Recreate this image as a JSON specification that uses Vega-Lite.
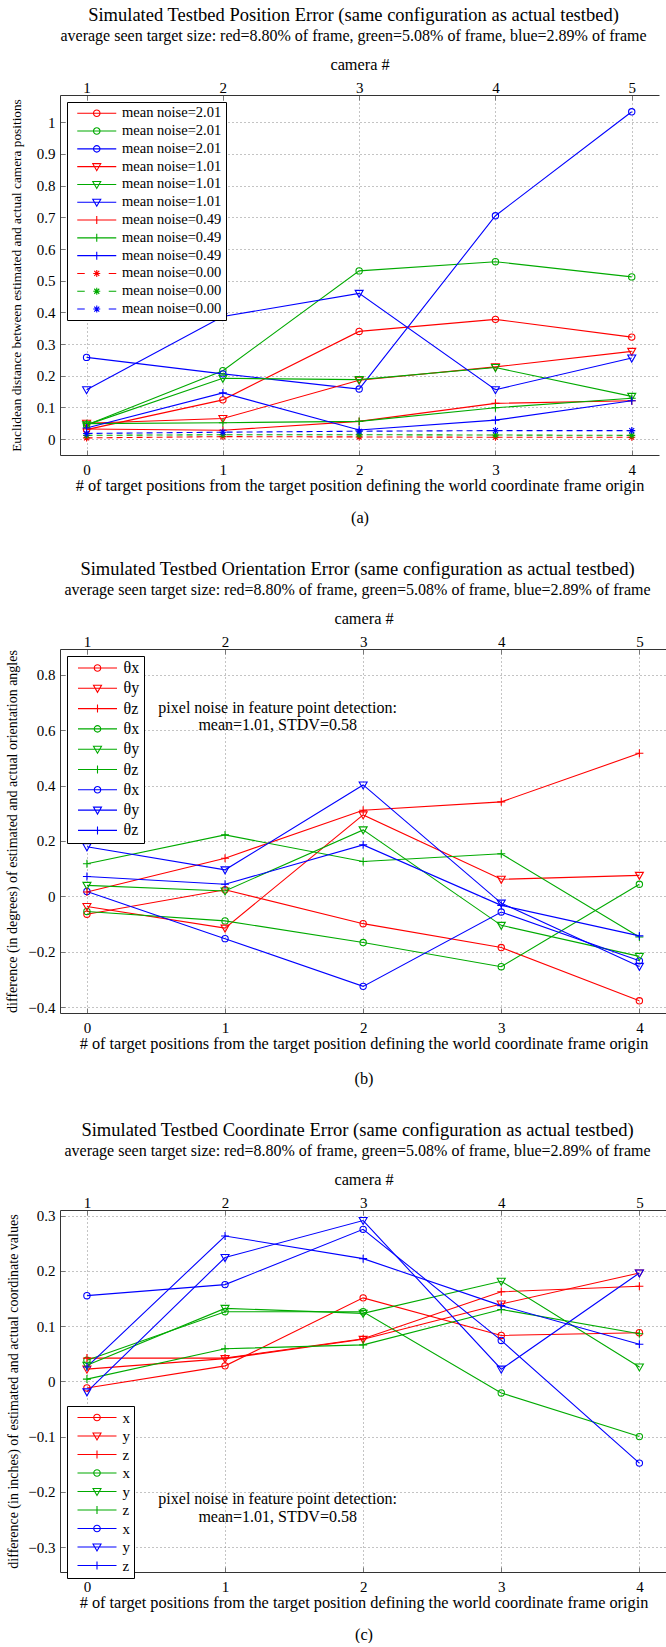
{
  "$schema": "https://vega.github.io/schema/vega-lite/v6.json",
  "background": "white",
  "padding": {"left": 5, "top": 5, "right": 0, "bottom": 0},
  "spacing": 33,
  "resolve": {"scale": {"x": "independent", "y": "independent", "color": "independent", "shape": "independent"}},
  "config": {
    "font": "Liberation Serif",
    "view": {"stroke": null},
    "title": {"font": "Liberation Serif", "fontSize": 18.5, "fontWeight": "normal", "color": "#000", "subtitleFont": "Liberation Serif", "subtitleFontSize": 16, "subtitleColor": "#000", "subtitlePadding": 4, "anchor": "middle", "frame": "group", "offset": 12, "dx": -6},
    "axis": {"labelFont": "Liberation Serif", "titleFont": "Liberation Serif", "labelFontSize": 15, "titleFontSize": 16.3, "titleFontWeight": "normal", "labelColor": "#000", "titleColor": "#000", "domainColor": "#333", "domainWidth": 1, "tickColor": "#777", "tickSize": -5, "tickWidth": 1, "gridColor": "#888", "gridDash": [1, 3], "gridWidth": 1, "gridOpacity": 1, "labelPadding": 10, "titlePadding": 2, "labelFlush": false, "labelOverlap": false},
    "axisBottom": {"labelPadding": 12, "titlePadding": 0, "titleLineHeight": 32},
    "legend": {"orient": "top-left", "offset": 7, "strokeColor": "#000", "fillColor": "#fff", "padding": 4, "labelFont": "Liberation Serif", "labelFontSize": 14.5, "labelColor": "#000", "symbolSize": 100, "symbolStrokeWidth": 1.1, "symbolOffset": 18.5, "labelOffset": 18, "rowPadding": 2.8}
  },
  "datasets": {
    "a": [
      {"noise": "2.01", "target": "8.80%", "series": "mean noise=2.01 (8.80%)", "x": 0, "y": 0.030},
      {"noise": "2.01", "target": "8.80%", "series": "mean noise=2.01 (8.80%)", "x": 1, "y": 0.124},
      {"noise": "2.01", "target": "8.80%", "series": "mean noise=2.01 (8.80%)", "x": 2, "y": 0.340},
      {"noise": "2.01", "target": "8.80%", "series": "mean noise=2.01 (8.80%)", "x": 3, "y": 0.378},
      {"noise": "2.01", "target": "8.80%", "series": "mean noise=2.01 (8.80%)", "x": 4, "y": 0.322},
      {"noise": "2.01", "target": "5.08%", "series": "mean noise=2.01 (5.08%)", "x": 0, "y": 0.045},
      {"noise": "2.01", "target": "5.08%", "series": "mean noise=2.01 (5.08%)", "x": 1, "y": 0.216},
      {"noise": "2.01", "target": "5.08%", "series": "mean noise=2.01 (5.08%)", "x": 2, "y": 0.531},
      {"noise": "2.01", "target": "5.08%", "series": "mean noise=2.01 (5.08%)", "x": 3, "y": 0.560},
      {"noise": "2.01", "target": "5.08%", "series": "mean noise=2.01 (5.08%)", "x": 4, "y": 0.512},
      {"noise": "2.01", "target": "2.89%", "series": "mean noise=2.01 (2.89%)", "x": 0, "y": 0.258},
      {"noise": "2.01", "target": "2.89%", "series": "mean noise=2.01 (2.89%)", "x": 1, "y": 0.206},
      {"noise": "2.01", "target": "2.89%", "series": "mean noise=2.01 (2.89%)", "x": 2, "y": 0.158},
      {"noise": "2.01", "target": "2.89%", "series": "mean noise=2.01 (2.89%)", "x": 3, "y": 0.705},
      {"noise": "2.01", "target": "2.89%", "series": "mean noise=2.01 (2.89%)", "x": 4, "y": 1.033},
      {"noise": "1.01", "target": "8.80%", "series": "mean noise=1.01 (8.80%)", "x": 0, "y": 0.050},
      {"noise": "1.01", "target": "8.80%", "series": "mean noise=1.01 (8.80%)", "x": 1, "y": 0.065},
      {"noise": "1.01", "target": "8.80%", "series": "mean noise=1.01 (8.80%)", "x": 2, "y": 0.186},
      {"noise": "1.01", "target": "8.80%", "series": "mean noise=1.01 (8.80%)", "x": 3, "y": 0.228},
      {"noise": "1.01", "target": "8.80%", "series": "mean noise=1.01 (8.80%)", "x": 4, "y": 0.277},
      {"noise": "1.01", "target": "5.08%", "series": "mean noise=1.01 (5.08%)", "x": 0, "y": 0.045},
      {"noise": "1.01", "target": "5.08%", "series": "mean noise=1.01 (5.08%)", "x": 1, "y": 0.192},
      {"noise": "1.01", "target": "5.08%", "series": "mean noise=1.01 (5.08%)", "x": 2, "y": 0.188},
      {"noise": "1.01", "target": "5.08%", "series": "mean noise=1.01 (5.08%)", "x": 3, "y": 0.226},
      {"noise": "1.01", "target": "5.08%", "series": "mean noise=1.01 (5.08%)", "x": 4, "y": 0.135},
      {"noise": "1.01", "target": "2.89%", "series": "mean noise=1.01 (2.89%)", "x": 0, "y": 0.156},
      {"noise": "1.01", "target": "2.89%", "series": "mean noise=1.01 (2.89%)", "x": 1, "y": 0.387},
      {"noise": "1.01", "target": "2.89%", "series": "mean noise=1.01 (2.89%)", "x": 2, "y": 0.460},
      {"noise": "1.01", "target": "2.89%", "series": "mean noise=1.01 (2.89%)", "x": 3, "y": 0.156},
      {"noise": "1.01", "target": "2.89%", "series": "mean noise=1.01 (2.89%)", "x": 4, "y": 0.256},
      {"noise": "0.49", "target": "8.80%", "series": "mean noise=0.49 (8.80%)", "x": 0, "y": 0.032},
      {"noise": "0.49", "target": "8.80%", "series": "mean noise=0.49 (8.80%)", "x": 1, "y": 0.028},
      {"noise": "0.49", "target": "8.80%", "series": "mean noise=0.49 (8.80%)", "x": 2, "y": 0.056},
      {"noise": "0.49", "target": "8.80%", "series": "mean noise=0.49 (8.80%)", "x": 3, "y": 0.113},
      {"noise": "0.49", "target": "8.80%", "series": "mean noise=0.49 (8.80%)", "x": 4, "y": 0.121},
      {"noise": "0.49", "target": "5.08%", "series": "mean noise=0.49 (5.08%)", "x": 0, "y": 0.049},
      {"noise": "0.49", "target": "5.08%", "series": "mean noise=0.49 (5.08%)", "x": 1, "y": 0.052},
      {"noise": "0.49", "target": "5.08%", "series": "mean noise=0.49 (5.08%)", "x": 2, "y": 0.056},
      {"noise": "0.49", "target": "5.08%", "series": "mean noise=0.49 (5.08%)", "x": 3, "y": 0.099},
      {"noise": "0.49", "target": "5.08%", "series": "mean noise=0.49 (5.08%)", "x": 4, "y": 0.129},
      {"noise": "0.49", "target": "2.89%", "series": "mean noise=0.49 (2.89%)", "x": 0, "y": 0.035},
      {"noise": "0.49", "target": "2.89%", "series": "mean noise=0.49 (2.89%)", "x": 1, "y": 0.146},
      {"noise": "0.49", "target": "2.89%", "series": "mean noise=0.49 (2.89%)", "x": 2, "y": 0.029},
      {"noise": "0.49", "target": "2.89%", "series": "mean noise=0.49 (2.89%)", "x": 3, "y": 0.060},
      {"noise": "0.49", "target": "2.89%", "series": "mean noise=0.49 (2.89%)", "x": 4, "y": 0.121},
      {"noise": "0.00", "target": "8.80%", "series": "mean noise=0.00 (8.80%)", "x": 0, "y": 0.004},
      {"noise": "0.00", "target": "8.80%", "series": "mean noise=0.00 (8.80%)", "x": 1, "y": 0.008},
      {"noise": "0.00", "target": "8.80%", "series": "mean noise=0.00 (8.80%)", "x": 2, "y": 0.007},
      {"noise": "0.00", "target": "8.80%", "series": "mean noise=0.00 (8.80%)", "x": 3, "y": 0.006},
      {"noise": "0.00", "target": "8.80%", "series": "mean noise=0.00 (8.80%)", "x": 4, "y": 0.006},
      {"noise": "0.00", "target": "5.08%", "series": "mean noise=0.00 (5.08%)", "x": 0, "y": 0.012},
      {"noise": "0.00", "target": "5.08%", "series": "mean noise=0.00 (5.08%)", "x": 1, "y": 0.014},
      {"noise": "0.00", "target": "5.08%", "series": "mean noise=0.00 (5.08%)", "x": 2, "y": 0.014},
      {"noise": "0.00", "target": "5.08%", "series": "mean noise=0.00 (5.08%)", "x": 3, "y": 0.013},
      {"noise": "0.00", "target": "5.08%", "series": "mean noise=0.00 (5.08%)", "x": 4, "y": 0.012},
      {"noise": "0.00", "target": "2.89%", "series": "mean noise=0.00 (2.89%)", "x": 0, "y": 0.018},
      {"noise": "0.00", "target": "2.89%", "series": "mean noise=0.00 (2.89%)", "x": 1, "y": 0.022},
      {"noise": "0.00", "target": "2.89%", "series": "mean noise=0.00 (2.89%)", "x": 2, "y": 0.025},
      {"noise": "0.00", "target": "2.89%", "series": "mean noise=0.00 (2.89%)", "x": 3, "y": 0.027},
      {"noise": "0.00", "target": "2.89%", "series": "mean noise=0.00 (2.89%)", "x": 4, "y": 0.027}
    ],
    "b": [
      {"angle": "θx", "target": "8.80%", "series": "θx (8.80%)", "x": 0, "y": -0.064},
      {"angle": "θx", "target": "8.80%", "series": "θx (8.80%)", "x": 1, "y": 0.024},
      {"angle": "θx", "target": "8.80%", "series": "θx (8.80%)", "x": 2, "y": -0.098},
      {"angle": "θx", "target": "8.80%", "series": "θx (8.80%)", "x": 3, "y": -0.184},
      {"angle": "θx", "target": "8.80%", "series": "θx (8.80%)", "x": 4, "y": -0.376},
      {"angle": "θy", "target": "8.80%", "series": "θy (8.80%)", "x": 0, "y": -0.036},
      {"angle": "θy", "target": "8.80%", "series": "θy (8.80%)", "x": 1, "y": -0.114},
      {"angle": "θy", "target": "8.80%", "series": "θy (8.80%)", "x": 2, "y": 0.294},
      {"angle": "θy", "target": "8.80%", "series": "θy (8.80%)", "x": 3, "y": 0.062},
      {"angle": "θy", "target": "8.80%", "series": "θy (8.80%)", "x": 4, "y": 0.076},
      {"angle": "θz", "target": "8.80%", "series": "θz (8.80%)", "x": 0, "y": 0.016},
      {"angle": "θz", "target": "8.80%", "series": "θz (8.80%)", "x": 1, "y": 0.138},
      {"angle": "θz", "target": "8.80%", "series": "θz (8.80%)", "x": 2, "y": 0.311},
      {"angle": "θz", "target": "8.80%", "series": "θz (8.80%)", "x": 3, "y": 0.341},
      {"angle": "θz", "target": "8.80%", "series": "θz (8.80%)", "x": 4, "y": 0.516},
      {"angle": "θx", "target": "5.08%", "series": "θx (5.08%)", "x": 0, "y": -0.054},
      {"angle": "θx", "target": "5.08%", "series": "θx (5.08%)", "x": 1, "y": -0.088},
      {"angle": "θx", "target": "5.08%", "series": "θx (5.08%)", "x": 2, "y": -0.166},
      {"angle": "θx", "target": "5.08%", "series": "θx (5.08%)", "x": 3, "y": -0.253},
      {"angle": "θx", "target": "5.08%", "series": "θx (5.08%)", "x": 4, "y": 0.044},
      {"angle": "θy", "target": "5.08%", "series": "θy (5.08%)", "x": 0, "y": 0.040},
      {"angle": "θy", "target": "5.08%", "series": "θy (5.08%)", "x": 1, "y": 0.020},
      {"angle": "θy", "target": "5.08%", "series": "θy (5.08%)", "x": 2, "y": 0.240},
      {"angle": "θy", "target": "5.08%", "series": "θy (5.08%)", "x": 3, "y": -0.104},
      {"angle": "θy", "target": "5.08%", "series": "θy (5.08%)", "x": 4, "y": -0.216},
      {"angle": "θz", "target": "5.08%", "series": "θz (5.08%)", "x": 0, "y": 0.118},
      {"angle": "θz", "target": "5.08%", "series": "θz (5.08%)", "x": 1, "y": 0.222},
      {"angle": "θz", "target": "5.08%", "series": "θz (5.08%)", "x": 2, "y": 0.126},
      {"angle": "θz", "target": "5.08%", "series": "θz (5.08%)", "x": 3, "y": 0.154},
      {"angle": "θz", "target": "5.08%", "series": "θz (5.08%)", "x": 4, "y": -0.146},
      {"angle": "θx", "target": "2.89%", "series": "θx (2.89%)", "x": 0, "y": 0.018},
      {"angle": "θx", "target": "2.89%", "series": "θx (2.89%)", "x": 1, "y": -0.152},
      {"angle": "θx", "target": "2.89%", "series": "θx (2.89%)", "x": 2, "y": -0.324},
      {"angle": "θx", "target": "2.89%", "series": "θx (2.89%)", "x": 3, "y": -0.056},
      {"angle": "θx", "target": "2.89%", "series": "θx (2.89%)", "x": 4, "y": -0.232},
      {"angle": "θy", "target": "2.89%", "series": "θy (2.89%)", "x": 0, "y": 0.179},
      {"angle": "θy", "target": "2.89%", "series": "θy (2.89%)", "x": 1, "y": 0.096},
      {"angle": "θy", "target": "2.89%", "series": "θy (2.89%)", "x": 2, "y": 0.402},
      {"angle": "θy", "target": "2.89%", "series": "θy (2.89%)", "x": 3, "y": -0.024},
      {"angle": "θy", "target": "2.89%", "series": "θy (2.89%)", "x": 4, "y": -0.252},
      {"angle": "θz", "target": "2.89%", "series": "θz (2.89%)", "x": 0, "y": 0.072},
      {"angle": "θz", "target": "2.89%", "series": "θz (2.89%)", "x": 1, "y": 0.044},
      {"angle": "θz", "target": "2.89%", "series": "θz (2.89%)", "x": 2, "y": 0.186},
      {"angle": "θz", "target": "2.89%", "series": "θz (2.89%)", "x": 3, "y": -0.032},
      {"angle": "θz", "target": "2.89%", "series": "θz (2.89%)", "x": 4, "y": -0.142}
    ],
    "c": [
      {"coordinate": "x", "target": "8.80%", "series": "x (8.80%)", "x": 0, "y": -0.012},
      {"coordinate": "x", "target": "8.80%", "series": "x (8.80%)", "x": 1, "y": 0.028},
      {"coordinate": "x", "target": "8.80%", "series": "x (8.80%)", "x": 2, "y": 0.151},
      {"coordinate": "x", "target": "8.80%", "series": "x (8.80%)", "x": 3, "y": 0.083},
      {"coordinate": "x", "target": "8.80%", "series": "x (8.80%)", "x": 4, "y": 0.088},
      {"coordinate": "y", "target": "8.80%", "series": "y (8.80%)", "x": 0, "y": 0.022},
      {"coordinate": "y", "target": "8.80%", "series": "y (8.80%)", "x": 1, "y": 0.041},
      {"coordinate": "y", "target": "8.80%", "series": "y (8.80%)", "x": 2, "y": 0.076},
      {"coordinate": "y", "target": "8.80%", "series": "y (8.80%)", "x": 3, "y": 0.140},
      {"coordinate": "y", "target": "8.80%", "series": "y (8.80%)", "x": 4, "y": 0.196},
      {"coordinate": "z", "target": "8.80%", "series": "z (8.80%)", "x": 0, "y": 0.042},
      {"coordinate": "z", "target": "8.80%", "series": "z (8.80%)", "x": 1, "y": 0.042},
      {"coordinate": "z", "target": "8.80%", "series": "z (8.80%)", "x": 2, "y": 0.077},
      {"coordinate": "z", "target": "8.80%", "series": "z (8.80%)", "x": 3, "y": 0.162},
      {"coordinate": "z", "target": "8.80%", "series": "z (8.80%)", "x": 4, "y": 0.172},
      {"coordinate": "x", "target": "5.08%", "series": "x (5.08%)", "x": 0, "y": 0.038},
      {"coordinate": "x", "target": "5.08%", "series": "x (5.08%)", "x": 1, "y": 0.126},
      {"coordinate": "x", "target": "5.08%", "series": "x (5.08%)", "x": 2, "y": 0.126},
      {"coordinate": "x", "target": "5.08%", "series": "x (5.08%)", "x": 3, "y": -0.021},
      {"coordinate": "x", "target": "5.08%", "series": "x (5.08%)", "x": 4, "y": -0.100},
      {"coordinate": "y", "target": "5.08%", "series": "y (5.08%)", "x": 0, "y": 0.029},
      {"coordinate": "y", "target": "5.08%", "series": "y (5.08%)", "x": 1, "y": 0.132},
      {"coordinate": "y", "target": "5.08%", "series": "y (5.08%)", "x": 2, "y": 0.123},
      {"coordinate": "y", "target": "5.08%", "series": "y (5.08%)", "x": 3, "y": 0.181},
      {"coordinate": "y", "target": "5.08%", "series": "y (5.08%)", "x": 4, "y": 0.026},
      {"coordinate": "z", "target": "5.08%", "series": "z (5.08%)", "x": 0, "y": 0.004},
      {"coordinate": "z", "target": "5.08%", "series": "z (5.08%)", "x": 1, "y": 0.059},
      {"coordinate": "z", "target": "5.08%", "series": "z (5.08%)", "x": 2, "y": 0.066},
      {"coordinate": "z", "target": "5.08%", "series": "z (5.08%)", "x": 3, "y": 0.130},
      {"coordinate": "z", "target": "5.08%", "series": "z (5.08%)", "x": 4, "y": 0.086},
      {"coordinate": "x", "target": "2.89%", "series": "x (2.89%)", "x": 0, "y": 0.155},
      {"coordinate": "x", "target": "2.89%", "series": "x (2.89%)", "x": 1, "y": 0.175},
      {"coordinate": "x", "target": "2.89%", "series": "x (2.89%)", "x": 2, "y": 0.275},
      {"coordinate": "x", "target": "2.89%", "series": "x (2.89%)", "x": 3, "y": 0.074},
      {"coordinate": "x", "target": "2.89%", "series": "x (2.89%)", "x": 4, "y": -0.148},
      {"coordinate": "y", "target": "2.89%", "series": "y (2.89%)", "x": 0, "y": -0.019},
      {"coordinate": "y", "target": "2.89%", "series": "y (2.89%)", "x": 1, "y": 0.224},
      {"coordinate": "y", "target": "2.89%", "series": "y (2.89%)", "x": 2, "y": 0.291},
      {"coordinate": "y", "target": "2.89%", "series": "y (2.89%)", "x": 3, "y": 0.022},
      {"coordinate": "y", "target": "2.89%", "series": "y (2.89%)", "x": 4, "y": 0.196},
      {"coordinate": "z", "target": "2.89%", "series": "z (2.89%)", "x": 0, "y": 0.026},
      {"coordinate": "z", "target": "2.89%", "series": "z (2.89%)", "x": 1, "y": 0.263},
      {"coordinate": "z", "target": "2.89%", "series": "z (2.89%)", "x": 2, "y": 0.222},
      {"coordinate": "z", "target": "2.89%", "series": "z (2.89%)", "x": 3, "y": 0.137},
      {"coordinate": "z", "target": "2.89%", "series": "z (2.89%)", "x": 4, "y": 0.067}
    ]
  },
  "vconcat": [
    {
      "width": 599, "height": 360,
      "data": {"name": "a"},
      "title": {"text": "Simulated Testbed Position Error (same configuration as actual testbed)", "subtitle": "average seen target size: red=8.80% of frame, green=5.08% of frame, blue=2.89% of frame"},
      "resolve": {"axis": {"x": "independent"}},
      "encoding": {
        "x": {"field": "x", "type": "quantitative", "scale": {"domain": [-0.195, 4.2], "nice": false, "zero": false}, "axis": {"orient": "bottom", "values": [0, 1, 2, 3, 4], "grid": true, "title": ["# of target positions from the target position defining the world coordinate frame origin", "(a)"]}},
        "y": {"field": "y", "type": "quantitative", "scale": {"domain": [-0.05, 1.086], "nice": false, "zero": false}, "axis": {"values": [0, 0.1, 0.2, 0.3, 0.4, 0.5, 0.6, 0.7, 0.8, 0.9, 1], "format": "~g", "grid": true, "titlePadding": 12.3, "titleFontSize": 13.3, "title": "Euclidean distance between estimated and actual camera positions"}},
        "color": {"field": "series", "type": "nominal", "scale": {"domain": ["mean noise=2.01 (8.80%)", "mean noise=2.01 (5.08%)", "mean noise=2.01 (2.89%)", "mean noise=1.01 (8.80%)", "mean noise=1.01 (5.08%)", "mean noise=1.01 (2.89%)", "mean noise=0.49 (8.80%)", "mean noise=0.49 (5.08%)", "mean noise=0.49 (2.89%)", "mean noise=0.00 (8.80%)", "mean noise=0.00 (5.08%)", "mean noise=0.00 (2.89%)"], "range": ["#ff0000", "#00aa00", "#0000ff", "#ff0000", "#00aa00", "#0000ff", "#ff0000", "#00aa00", "#0000ff", "#ff0000", "#00aa00", "#0000ff"]}, "legend": {"title": null, "labelExpr": "split(datum.label, ' (')[0]"}}
      },
      "layer": [
        {
          "transform": [{"filter": "datum.noise != '0.00'"}],
          "mark": {"type": "line", "strokeWidth": 1.1}
        },
        {
          "transform": [{"filter": "datum.noise == '0.00'"}],
          "mark": {"type": "line", "strokeWidth": 1.1, "strokeDash": [6, 4]},
          "encoding": {"x": {"field": "x", "type": "quantitative", "axis": null}}
        },
        {
          "transform": [{"filter": "datum.noise == '2.01'"}],
          "mark": {"type": "point", "shape": "circle", "filled": false, "size": 40, "strokeWidth": 1.1, "opacity": 1},
          "encoding": {
            "x": {"field": "x", "type": "quantitative", "axis": {"orient": "top", "values": [0, 1, 2, 3, 4], "labelExpr": "datum.value + 1", "grid": false, "labelPadding": 5, "titlePadding": 8, "title": "camera #"}}
          }
        },
        {
          "transform": [{"filter": "datum.noise == '1.01'"}],
          "mark": {"type": "point", "shape": "M-1,-0.75L1,-0.75L0,1Z", "filled": false, "size": 64, "strokeWidth": 1.1, "opacity": 1},
          "encoding": {"x": {"field": "x", "type": "quantitative", "axis": null}}
        },
        {
          "transform": [{"filter": "datum.noise == '0.49'"}],
          "mark": {"type": "point", "shape": "M-1,0L1,0M0,-1L0,1", "filled": false, "size": 64, "strokeWidth": 1.1, "opacity": 1},
          "encoding": {"x": {"field": "x", "type": "quantitative", "axis": null}}
        },
        {
          "transform": [{"filter": "datum.noise == '0.00'"}],
          "mark": {"type": "point", "shape": "M-1,0L1,0M0,-1L0,1M-0.7,-0.7L0.7,0.7M-0.7,0.7L0.7,-0.7", "filled": false, "size": 49, "strokeWidth": 1.1, "opacity": 1},
          "encoding": {"x": {"field": "x", "type": "quantitative", "axis": null}}
        },
        {
          "transform": [{"filter": "datum.x > 100"}],
          "mark": {"type": "point", "filled": false, "strokeWidth": 1.1, "opacity": 1},
          "encoding": {
            "x": {"field": "x", "type": "quantitative", "axis": null},
            "shape": {"field": "series", "type": "nominal", "scale": {"domain": ["mean noise=2.01 (8.80%)", "mean noise=2.01 (5.08%)", "mean noise=2.01 (2.89%)", "mean noise=1.01 (8.80%)", "mean noise=1.01 (5.08%)", "mean noise=1.01 (2.89%)", "mean noise=0.49 (8.80%)", "mean noise=0.49 (5.08%)", "mean noise=0.49 (2.89%)", "mean noise=0.00 (8.80%)", "mean noise=0.00 (5.08%)", "mean noise=0.00 (2.89%)"], "range": ["M-3.9,0L3.9,0M0.65,0A0.65,0.65 0 1,1 -0.65,0A0.65,0.65 0 1,1 0.65,0", "M-3.9,0L3.9,0M0.65,0A0.65,0.65 0 1,1 -0.65,0A0.65,0.65 0 1,1 0.65,0", "M-3.9,0L3.9,0M0.65,0A0.65,0.65 0 1,1 -0.65,0A0.65,0.65 0 1,1 0.65,0", "M-3.9,0L3.9,0M-0.8,-0.6L0.8,-0.6L0,0.8Z", "M-3.9,0L3.9,0M-0.8,-0.6L0.8,-0.6L0,0.8Z", "M-3.9,0L3.9,0M-0.8,-0.6L0.8,-0.6L0,0.8Z", "M-3.9,0L3.9,0M0,-0.8L0,0.8", "M-3.9,0L3.9,0M0,-0.8L0,0.8", "M-3.9,0L3.9,0M0,-0.8L0,0.8", "M-3.9,0L-2.4,0M2.4,0L3.9,0M-0.7,0L0.7,0M0,-0.7L0,0.7M-0.5,-0.5L0.5,0.5M-0.5,0.5L0.5,-0.5", "M-3.9,0L-2.4,0M2.4,0L3.9,0M-0.7,0L0.7,0M0,-0.7L0,0.7M-0.5,-0.5L0.5,0.5M-0.5,0.5L0.5,-0.5", "M-3.9,0L-2.4,0M2.4,0L3.9,0M-0.7,0L0.7,0M0,-0.7L0,0.7M-0.5,-0.5L0.5,0.5M-0.5,0.5L0.5,-0.5"]}, "legend": {"title": null, "labelExpr": "split(datum.label, ' (')[0]"}}
          }
        }
      ]
    },
    {
      "width": 607, "height": 364,
      "data": {"name": "b"},
      "title": {"text": "Simulated Testbed Orientation Error (same configuration as actual testbed)", "subtitle": "average seen target size: red=8.80% of frame, green=5.08% of frame, blue=2.89% of frame"},
      "resolve": {"axis": {"x": "independent"}},
      "layer": [
        {
          "resolve": {"axis": {"x": "independent"}},
          "encoding": {
            "x": {"field": "x", "type": "quantitative", "scale": {"domain": [-0.195, 4.2], "nice": false, "zero": false}, "axis": {"orient": "bottom", "values": [0, 1, 2, 3, 4], "grid": true, "titleLineHeight": 35, "title": ["# of target positions from the target position defining the world coordinate frame origin", "(b)"]}},
            "y": {"field": "y", "type": "quantitative", "scale": {"domain": [-0.42, 0.892], "nice": false, "zero": false}, "axis": {"values": [-0.4, -0.2, 0, 0.2, 0.4, 0.6, 0.8], "format": "~g", "grid": true, "titlePadding": 8, "titleFontSize": 14, "title": "difference (in degrees) of estimated and actual orientation angles"}},
            "color": {"field": "series", "type": "nominal", "scale": {"domain": ["θx (8.80%)", "θy (8.80%)", "θz (8.80%)", "θx (5.08%)", "θy (5.08%)", "θz (5.08%)", "θx (2.89%)", "θy (2.89%)", "θz (2.89%)"], "range": ["#ff0000", "#ff0000", "#ff0000", "#00aa00", "#00aa00", "#00aa00", "#0000ff", "#0000ff", "#0000ff"]}, "legend": {"title": null, "labelFontSize": 16, "rowPadding": 4.3, "labelExpr": "split(datum.label, ' (')[0]"}}
          },
          "layer": [
            {
              "mark": {"type": "line", "strokeWidth": 1.1}
            },
            {
              "transform": [{"filter": "datum.angle == 'θx'"}],
              "mark": {"type": "point", "shape": "circle", "filled": false, "size": 40, "strokeWidth": 1.1, "opacity": 1},
              "encoding": {
                "x": {"field": "x", "type": "quantitative", "axis": {"orient": "top", "values": [0, 1, 2, 3, 4], "labelExpr": "datum.value + 1", "grid": false, "labelPadding": 5, "titlePadding": 8, "title": "camera #"}}
              }
            },
            {
              "transform": [{"filter": "datum.angle == 'θy'"}],
              "mark": {"type": "point", "shape": "M-1,-0.75L1,-0.75L0,1Z", "filled": false, "size": 64, "strokeWidth": 1.1, "opacity": 1},
              "encoding": {"x": {"field": "x", "type": "quantitative", "axis": null}}
            },
            {
              "transform": [{"filter": "datum.angle == 'θz'"}],
              "mark": {"type": "point", "shape": "M-1,0L1,0M0,-1L0,1", "filled": false, "size": 64, "strokeWidth": 1.1, "opacity": 1},
              "encoding": {"x": {"field": "x", "type": "quantitative", "axis": null}}
            },
            {
              "transform": [{"filter": "datum.x > 100"}],
              "mark": {"type": "point", "filled": false, "strokeWidth": 1.1, "opacity": 1},
              "encoding": {
                "x": {"field": "x", "type": "quantitative", "axis": null},
                "shape": {"field": "series", "type": "nominal", "scale": {"domain": ["θx (8.80%)", "θy (8.80%)", "θz (8.80%)", "θx (5.08%)", "θy (5.08%)", "θz (5.08%)", "θx (2.89%)", "θy (2.89%)", "θz (2.89%)"], "range": ["M-3.9,0L3.9,0M0.65,0A0.65,0.65 0 1,1 -0.65,0A0.65,0.65 0 1,1 0.65,0", "M-3.9,0L3.9,0M-0.8,-0.6L0.8,-0.6L0,0.8Z", "M-3.9,0L3.9,0M0,-0.8L0,0.8", "M-3.9,0L3.9,0M0.65,0A0.65,0.65 0 1,1 -0.65,0A0.65,0.65 0 1,1 0.65,0", "M-3.9,0L3.9,0M-0.8,-0.6L0.8,-0.6L0,0.8Z", "M-3.9,0L3.9,0M0,-0.8L0,0.8", "M-3.9,0L3.9,0M0.65,0A0.65,0.65 0 1,1 -0.65,0A0.65,0.65 0 1,1 0.65,0", "M-3.9,0L3.9,0M-0.8,-0.6L0.8,-0.6L0,0.8Z", "M-3.9,0L3.9,0M0,-0.8L0,0.8"]}, "legend": {"title": null, "labelFontSize": 16, "rowPadding": 4.3, "labelExpr": "split(datum.label, ' (')[0]"}}
              }
            }
          ]
        },
        {
          "data": {"values": [{}]},
          "mark": {"type": "text", "text": ["pixel noise in feature point detection:", "mean=1.01, STDV=0.58"], "font": "Liberation Serif", "fontSize": 16, "lineHeight": 17.5, "align": "center", "baseline": "middle", "color": "#000000"},
          "encoding": {
            "x": {"datum": 1.381, "type": "quantitative", "axis": null},
            "y": {"datum": 0.68, "type": "quantitative", "axis": {"values": [-0.4, -0.2, 0, 0.2, 0.4, 0.6, 0.8], "format": "~g", "grid": true, "titlePadding": 8, "titleFontSize": 14, "title": "difference (in degrees) of estimated and actual orientation angles"}}
          }
        }
      ]
    },
    {
      "width": 607, "height": 362,
      "data": {"name": "c"},
      "title": {"text": "Simulated Testbed Coordinate Error (same configuration as actual testbed)", "subtitle": "average seen target size: red=8.80% of frame, green=5.08% of frame, blue=2.89% of frame"},
      "resolve": {"axis": {"x": "independent"}},
      "layer": [
        {
          "resolve": {"axis": {"x": "independent"}},
          "encoding": {
            "x": {"field": "x", "type": "quantitative", "scale": {"domain": [-0.195, 4.2], "nice": false, "zero": false}, "axis": {"orient": "bottom", "values": [0, 1, 2, 3, 4], "grid": true, "title": ["# of target positions from the target position defining the world coordinate frame origin", "(c)"]}},
            "y": {"field": "y", "type": "quantitative", "scale": {"domain": [-0.345, 0.31], "nice": false, "zero": false}, "axis": {"values": [-0.3, -0.2, -0.1, 0, 0.1, 0.2, 0.3], "format": "~g", "grid": true, "titlePadding": 7.6, "titleFontSize": 14, "title": "difference (in inches) of estimated and actual coordinate values"}},
            "color": {"field": "series", "type": "nominal", "scale": {"domain": ["x (8.80%)", "y (8.80%)", "z (8.80%)", "x (5.08%)", "y (5.08%)", "z (5.08%)", "x (2.89%)", "y (2.89%)", "z (2.89%)"], "range": ["#ff0000", "#ff0000", "#ff0000", "#00aa00", "#00aa00", "#00aa00", "#0000ff", "#0000ff", "#0000ff"]}, "legend": {"title": null, "orient": "none", "legendX": 7, "legendY": 196, "labelFontSize": 15, "rowPadding": 2.5, "labelExpr": "split(datum.label, ' (')[0]"}}
          },
          "layer": [
            {
              "mark": {"type": "line", "strokeWidth": 1.1}
            },
            {
              "transform": [{"filter": "datum.coordinate == 'x'"}],
              "mark": {"type": "point", "shape": "circle", "filled": false, "size": 40, "strokeWidth": 1.1, "opacity": 1},
              "encoding": {
                "x": {"field": "x", "type": "quantitative", "axis": {"orient": "top", "values": [0, 1, 2, 3, 4], "labelExpr": "datum.value + 1", "grid": false, "labelPadding": 5, "titlePadding": 8, "title": "camera #"}}
              }
            },
            {
              "transform": [{"filter": "datum.coordinate == 'y'"}],
              "mark": {"type": "point", "shape": "M-1,-0.75L1,-0.75L0,1Z", "filled": false, "size": 64, "strokeWidth": 1.1, "opacity": 1},
              "encoding": {"x": {"field": "x", "type": "quantitative", "axis": null}}
            },
            {
              "transform": [{"filter": "datum.coordinate == 'z'"}],
              "mark": {"type": "point", "shape": "M-1,0L1,0M0,-1L0,1", "filled": false, "size": 64, "strokeWidth": 1.1, "opacity": 1},
              "encoding": {"x": {"field": "x", "type": "quantitative", "axis": null}}
            },
            {
              "transform": [{"filter": "datum.x > 100"}],
              "mark": {"type": "point", "filled": false, "strokeWidth": 1.1, "opacity": 1},
              "encoding": {
                "x": {"field": "x", "type": "quantitative", "axis": null},
                "shape": {"field": "series", "type": "nominal", "scale": {"domain": ["x (8.80%)", "y (8.80%)", "z (8.80%)", "x (5.08%)", "y (5.08%)", "z (5.08%)", "x (2.89%)", "y (2.89%)", "z (2.89%)"], "range": ["M-3.9,0L3.9,0M0.65,0A0.65,0.65 0 1,1 -0.65,0A0.65,0.65 0 1,1 0.65,0", "M-3.9,0L3.9,0M-0.8,-0.6L0.8,-0.6L0,0.8Z", "M-3.9,0L3.9,0M0,-0.8L0,0.8", "M-3.9,0L3.9,0M0.65,0A0.65,0.65 0 1,1 -0.65,0A0.65,0.65 0 1,1 0.65,0", "M-3.9,0L3.9,0M-0.8,-0.6L0.8,-0.6L0,0.8Z", "M-3.9,0L3.9,0M0,-0.8L0,0.8", "M-3.9,0L3.9,0M0.65,0A0.65,0.65 0 1,1 -0.65,0A0.65,0.65 0 1,1 0.65,0", "M-3.9,0L3.9,0M-0.8,-0.6L0.8,-0.6L0,0.8Z", "M-3.9,0L3.9,0M0,-0.8L0,0.8"]}, "legend": {"title": null, "orient": "none", "legendX": 7, "legendY": 196, "labelFontSize": 15, "rowPadding": 2.5, "labelExpr": "split(datum.label, ' (')[0]"}}
              }
            }
          ]
        },
        {
          "data": {"values": [{}]},
          "mark": {"type": "text", "text": ["pixel noise in feature point detection:", "mean=1.01, STDV=0.58"], "font": "Liberation Serif", "fontSize": 16, "lineHeight": 17.5, "align": "center", "baseline": "middle", "color": "#000000"},
          "encoding": {
            "x": {"datum": 1.381, "type": "quantitative", "axis": null},
            "y": {"datum": -0.213, "type": "quantitative", "axis": {"values": [-0.3, -0.2, -0.1, 0, 0.1, 0.2, 0.3], "format": "~g", "grid": true, "titlePadding": 7.6, "titleFontSize": 14, "title": "difference (in inches) of estimated and actual coordinate values"}}
          }
        }
      ]
    }
  ]
}
